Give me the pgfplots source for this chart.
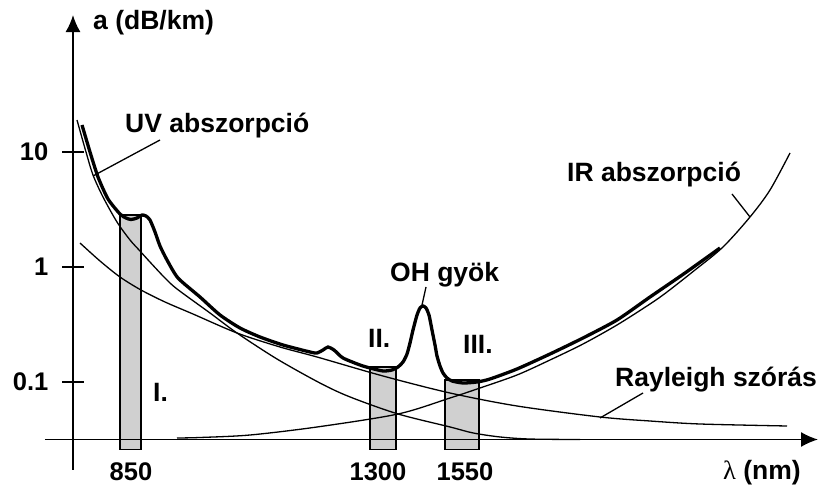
\documentclass[border=0pt]{standalone}
\usepackage{fontspec}
\setmainfont{Liberation Sans}
\newfontfamily\lamfont{Liberation Serif}
\usepackage{pgfplots}
\pgfplotsset{compat=1.18}
\usetikzlibrary{arrows.meta}
\definecolor{bargray}{RGB}{208,208,208}
\begin{document}
\begin{tikzpicture}
\begin{axis}[
  x=1bp, y=115bp,
  xmin=-28, xmax=745, ymin=-0.265, ymax=3.691,
  axis lines=middle,
  axis on top,
  enlargelimits=false,
  clip=false,
  axis line style={line width=1.5bp, -{Latex[length=17bp,width=15bp]}},
  xtick={58,305,392}, xticklabels={850,1300,1550},
  ytick={0.5,1.5,2.5}, yticklabels={0.1,1,10},
  tick align=center,
  major tick length=21bp,
  x tick style={draw=none},
  y tick style={line width=1.5bp, black},
  ticklabel style={font=\bfseries\fontsize{25.5bp}{30bp}\selectfont, inner sep=0pt},
  xticklabel style={anchor=base, yshift=-30.5bp},
  yticklabel style={anchor=east, xshift=-14bp},
  /pgf/number format/assume math mode=true,
]
% invisible frame fixing the picture size
\path (axis cs:-73,-0.4217) rectangle (axis cs:747,3.8217);

% transmission windows
\addplot[draw=black, line width=1.4bp, fill=bargray] coordinates {(47,-0.087) (68,-0.087) (68,1.952) (47,1.952)} -- cycle;
\addplot[draw=black, line width=1.4bp, fill=bargray] coordinates {(297,-0.087) (323,-0.087) (323,0.6304) (297,0.6304)} -- cycle;
\addplot[draw=black, line width=1.4bp, fill=bargray] coordinates {(372,-0.087) (406,-0.087) (406,0.5174) (372,0.5174)} -- cycle;

% UV absorption
\addplot[black, line width=1.3bp, smooth] coordinates {
(4,2.778) (13,2.500) (20,2.300) (30,2.109) (44,1.891) (57,1.735) (67,1.639)
(77,1.543) (92,1.404) (104,1.309) (137,1.100) (164,0.926) (204,0.700)
(247,0.491) (277,0.370) (325,0.222) (377,0.109) (400,0.057) (427,0.022)
(457,0.004) (507,0.0)};

% Rayleigh scattering
\addplot[black, line width=1.3bp, smooth] coordinates {
(7,1.7087) (27,1.5522) (47,1.4130) (68,1.3000) (92,1.1957) (120,1.0913)
(164,0.9261) (207,0.8043) (244,0.7174) (310,0.5522) (377,0.4043)
(444,0.2913) (527,0.1957) (577,0.1609) (627,0.1348) (714,0.1174)};

% IR absorption
\addplot[black, line width=1.3bp, smooth] coordinates {
(104,0.0130) (127,0.0174) (177,0.0391) (244,0.1087) (325,0.2217)
(377,0.3609) (407,0.4478) (444,0.5609) (477,0.6913) (510,0.8304)
(544,0.9957) (577,1.1783) (594,1.2826) (622,1.4739) (650,1.6739)
(677,1.9348) (697,2.1696) (717,2.4913)};

% total attenuation
\addplot[black, line width=3.3bp, smooth, tension=0.4] coordinates {
(9,2.7348) (17,2.5000) (25,2.2826) (35,2.0913) (47,1.9609) (53,1.9261)
(58,1.9130) (64,1.9261) (69,1.9522) (73,1.9435) (77,1.9087) (82,1.8043)
(87,1.6826) (94,1.5609) (105,1.4043) (127,1.2391) (147,1.0826)
(167,0.9696) (187,0.8913) (210,0.8217) (237,0.7609) (244,0.7522)
(250,0.7783) (255,0.8043) (261,0.7783) (270,0.7087) (287,0.6478)
(297,0.6217) (310,0.5957) (319,0.6043) (325,0.6304) (330,0.6739)
(334,0.7435) (337,0.8391) (340,0.9522) (344,1.0826) (347,1.1435)
(350,1.1609) (353,1.1435) (356,1.0826) (359,0.9522) (362,0.8217)
(364,0.7261) (367,0.6391) (370,0.5783) (374,0.5348) (379,0.5087)
(390,0.4913) (404,0.5000) (417,0.5261) (444,0.6130) (477,0.7435)
(510,0.8826) (544,1.0391) (577,1.2391) (612,1.4478) (647,1.6652)};

% leader lines
\draw[line width=1.3bp] (axis cs:20,2.2913) -- (axis cs:87,2.6043);
\draw[line width=1.3bp] (axis cs:659,2.1348) -- (axis cs:677,1.9348);
\draw[line width=1.3bp] (axis cs:527,0.1870) -- (axis cs:570,0.4043);
\draw[line width=1.3bp] (axis cs:349,1.1696) -- (axis cs:353,1.3261);

% labels
\begin{scope}[every node/.style={inner sep=0pt, font=\bfseries\fontsize{26.5bp}{30bp}\selectfont}]
\node[anchor=base west] at (axis cs:20,3.5609) {a (dB/km)};
\node[anchor=base west] at (axis cs:650,-0.3435) {{\lamfont\mdseries λ} (nm)};
\node[anchor=base west] at (axis cs:52,2.6652) {UV abszorpció};
\node[anchor=base west] at (axis cs:494,2.2391) {IR abszorpció};
\node[anchor=base west] at (axis cs:542,0.4652) {Rayleigh szórás};
\node[anchor=base west] at (axis cs:317,1.3696) {OH gyök};
\node[anchor=base west] at (axis cs:80,0.3261) {I.};
\node[anchor=base west] at (axis cs:295,0.8043) {II.};
\node[anchor=base west] at (axis cs:390,0.7435) {III.};
\end{scope}
\end{axis}
\end{tikzpicture}
\end{document}
